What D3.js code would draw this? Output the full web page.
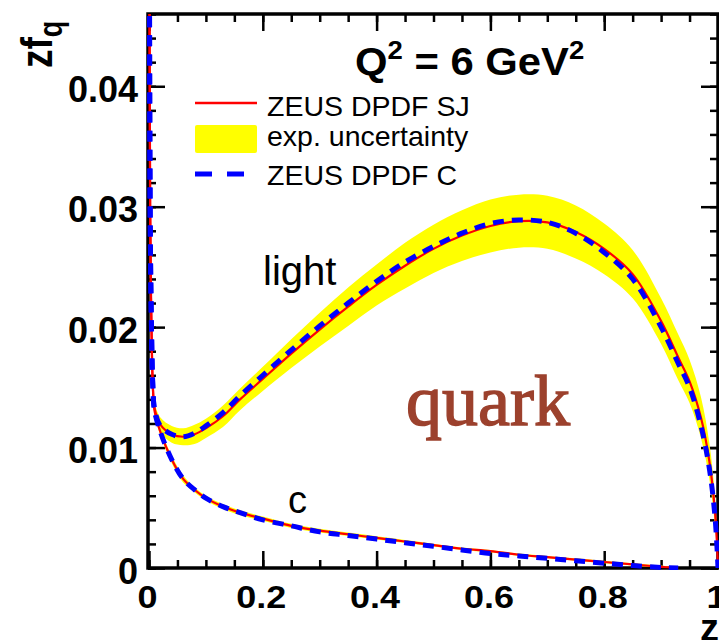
<!DOCTYPE html>
<meta charset="utf-8">
<script src="https://d3js.org/d3.v7.min.js"></script>
<style>
  body { margin: 0; background: #fff; }
  text { font-family: "Liberation Sans", Arial, sans-serif; fill: #000; }
  .axis line { stroke: #000; stroke-width: 2.5px; }
  .axis path { display: none; }
  .axis text { font-weight: bold; font-family: "Liberation Sans", Arial, sans-serif; }
</style>
<body>
<script>
// z grid shared by every curve
var zGrid = [0.0005, 0.002, 0.004, 0.007, 0.01, 0.02, 0.04, 0.06, 0.08, 0.10, 0.13, 0.16, 0.20, 0.25, 0.30,
  0.35, 0.40, 0.45, 0.50, 0.55, 0.60, 0.65, 0.70, 0.75, 0.80, 0.85, 0.90, 0.93, 0.95, 0.97, 0.985, 0.995, 1.0];

// light quark, ZEUS DPDF SJ (red) and its exp. uncertainty (yellow)
var lightSJ = [0.06, 0.03, 0.021, 0.0148, 0.0132, 0.0119, 0.0111, 0.0109, 0.0111, 0.0116, 0.0126, 0.0140, 0.0157, 0.0178, 0.0198,
  0.0217, 0.0235, 0.0251, 0.0265, 0.0276, 0.0284, 0.0288, 0.0287, 0.0279, 0.0265, 0.0244, 0.0205, 0.0175, 0.0155, 0.0125, 0.0088, 0.0045, 0];
var lightErr = [0.0003, 0.0003, 0.0004, 0.0005, 0.0005, 0.0006, 0.0007, 0.0007, 0.0008, 0.0008, 0.0009, 0.0009, 0.0010, 0.0012, 0.0014,
  0.0016, 0.0017, 0.0019, 0.0020, 0.0021, 0.0022, 0.0022, 0.0022, 0.0022, 0.0021, 0.0020, 0.0019, 0.0019, 0.0018, 0.0017, 0.0015, 0.0012, 0];
// light quark, ZEUS DPDF C (blue dashed)
var lightC = [0.06, 0.03, 0.021, 0.0148, 0.0131, 0.0118, 0.0111, 0.0109, 0.0112, 0.0118, 0.0129, 0.0143, 0.0160, 0.0181, 0.0201,
  0.0220, 0.0238, 0.0254, 0.0267, 0.0278, 0.0286, 0.0289, 0.0287, 0.0278, 0.0262, 0.0240, 0.0200, 0.0170, 0.0150, 0.0118, 0.0082, 0.0041, 0];

// charm
var cSJ = [0.06, 0.03, 0.021, 0.0148, 0.0130, 0.0113, 0.0090, 0.0074, 0.0065, 0.0058, 0.0051, 0.0046, 0.0041, 0.0035, 0.0031,
  0.0028, 0.0025, 0.0022, 0.0019, 0.0016, 0.0014, 0.0011, 0.0009, 0.0007, 0.0005, 0.0003, 0.0001, 0, null, null, null, null, null];
var cErr = [0.0003, 0.0003, 0.0003, 0.0003, 0.0003, 0.0003, 0.0003, 0.0003, 0.0002, 0.0002, 0.0002, 0.0002, 0.00018, 0.00017, 0.00016,
  0.00015, 0.00014, 0.00013, 0.00012, 0.00011, 0.0001, 0.0001, 0.0001, 0.0001, 0.0001, 0.0001, 0.0001, 0, null, null, null, null, null];
var cC = [0.06, 0.03, 0.021, 0.0148, 0.0130, 0.0113, 0.0090, 0.0074, 0.0065, 0.0058, 0.0051, 0.0046, 0.0040, 0.0035, 0.0030,
  0.0027, 0.0024, 0.0021, 0.0018, 0.0015, 0.0012, 0.0010, 0.0008, 0.0006, 0.0004, 0.0002, 0.00005, 0, null, null, null, null, null];

var xMajor = [0, 0.2, 0.4, 0.6, 0.8, 1];
var xLabels = ["0", "0.2", "0.4", "0.6", "0.8", "1"];
var yMajor = [0, 0.01, 0.02, 0.03, 0.04];
var yLabels = ["0", "0.01", "0.02", "0.03", "0.04"];
var legendNames = ["ZEUS DPDF SJ", "exp. uncertainty", "ZEUS DPDF C"];

var svg = d3.select('body').append('svg')
  .attr('width', 719)
  .attr('height', 640);

var x = d3.scaleLinear().domain([0, 1]).range([149, 718]);
var y = d3.scaleLinear().domain([0, 0.046]).range([568, 14]);

var xMinor = d3.range(0, 1.0001, 0.05);
var yMinor = d3.range(0, 0.0461, 0.002);

// frame
svg.append('rect')
  .attr('x', 148).attr('y', 14).attr('width', 570).attr('height', 554)
  .attr('fill', 'none').attr('stroke', '#000').attr('stroke-width', 3.5);

// minor ticks
svg.append('g').attr('class', 'axis').attr('transform', 'translate(0,568)')
  .call(d3.axisBottom(x).tickValues(xMinor).tickSizeInner(-8).tickSizeOuter(0).tickFormat(''));
svg.append('g').attr('class', 'axis').attr('transform', 'translate(0,14)')
  .call(d3.axisTop(x).tickValues(xMinor).tickSizeInner(-8).tickSizeOuter(0).tickFormat(''));
svg.append('g').attr('class', 'axis').attr('transform', 'translate(148,0)')
  .call(d3.axisLeft(y).tickValues(yMinor).tickSizeInner(-8).tickSizeOuter(0).tickFormat(''));
svg.append('g').attr('class', 'axis').attr('transform', 'translate(718,0)')
  .call(d3.axisRight(y).tickValues(yMinor).tickSizeInner(-8).tickSizeOuter(0).tickFormat(''));

// major ticks
var xAxis = svg.append('g').attr('class', 'axis').attr('transform', 'translate(0,568)')
  .call(d3.axisBottom(x).tickValues(xMajor).tickSizeInner(-17).tickSizeOuter(0)
    .tickFormat(function(d) { return xLabels[xMajor.indexOf(d)]; }));
xAxis.selectAll('text')
  .attr('y', null).attr('dy', null)
  .attr('transform', 'translate(-2,40) scale(1,0.88)')
  .style('font-size', '36px');
svg.append('g').attr('class', 'axis').attr('transform', 'translate(0,14)')
  .call(d3.axisTop(x).tickValues(xMajor).tickSizeInner(-17).tickSizeOuter(0).tickFormat(''));
var yAxis = svg.append('g').attr('class', 'axis').attr('transform', 'translate(148,0)')
  .call(d3.axisLeft(y).tickValues(yMajor).tickSizeInner(-17).tickSizeOuter(0).tickPadding(10)
    .tickFormat(function(d) { return yLabels[yMajor.indexOf(d)]; }));
yAxis.selectAll('text')
  .attr('dy', '0.42em')
  .style('font-size', '36px');
svg.append('g').attr('class', 'axis').attr('transform', 'translate(718,0)')
  .call(d3.axisRight(y).tickValues(yMajor).tickSizeInner(-17).tickSizeOuter(0).tickFormat(''));

// curves
svg.append('clipPath').attr('id', 'plot')
  .append('rect').attr('x', 146).attr('y', 14).attr('width', 574).attr('height', 556);

function rows(vals, errs) {
  return zGrid.map(function(z, i) { return {z: z, v: vals[i], e: errs ? errs[i] : 0}; });
}

var smooth = d3.curveCatmullRom.alpha(0.5);

var band = d3.area()
  .defined(function(d) { return d.v != null; })
  .x(function(d) { return x(d.z); })
  .y0(function(d) { return y(d.v - d.e); })
  .y1(function(d) { return y(d.v + d.e); })
  .curve(smooth);

var line = d3.line()
  .defined(function(d) { return d.v != null; })
  .x(function(d) { return x(d.z); })
  .y(function(d) { return y(d.v); })
  .curve(smooth);

var plot = svg.append('g').attr('clip-path', 'url(#plot)');

plot.append('path').attr('d', band(rows(lightSJ, lightErr))).attr('fill', '#ffff00');
plot.append('path').attr('d', band(rows(cSJ, cErr))).attr('fill', '#ffff00');

[lightSJ, cSJ].forEach(function(vals) {
  plot.append('path').attr('d', line(rows(vals)))
    .attr('fill', 'none').attr('stroke', '#ff0000').attr('stroke-width', 2.2);
});
[lightC, cC].forEach(function(vals) {
  plot.append('path').attr('d', line(rows(vals)))
    .attr('fill', 'none').attr('stroke', '#0000ff').attr('stroke-width', 5)
    .attr('stroke-dasharray', '11,8');
});

// legend
var leg = svg.append('g');
leg.append('line').attr('x1', 195).attr('x2', 257).attr('y1', 103).attr('y2', 103)
  .attr('stroke', '#ff0000').attr('stroke-width', 2.7);
leg.append('rect').attr('x', 195).attr('y', 125).attr('width', 62).attr('height', 28).attr('rx', 2)
  .attr('fill', '#ffff00');
leg.append('line').attr('x1', 195).attr('x2', 245).attr('y1', 174).attr('y2', 174)
  .attr('stroke', '#0000ff').attr('stroke-width', 5).attr('stroke-dasharray', '17,15');
leg.selectAll('text.leg').data(legendNames).enter().append('text')
  .attr('class', 'leg')
  .attr('x', 267)
  .attr('y', function(d, i) { return [116, 146, 185][i]; })
  .style('font-size', '28.5px')
  .text(function(d) { return d; });

// Q^2 title
var q2 = svg.append('text').attr('transform', 'translate(355,75) scale(1.1,1)')
  .style('font-size', '38px').style('font-weight', 'bold');
q2.append('tspan').text('Q');
q2.append('tspan').attr('dy', -16).style('font-size', '25px').text('2');
q2.append('tspan').attr('dy', 16).text(' = 6 GeV');
q2.append('tspan').attr('dy', -16).style('font-size', '25px').text('2');

// curve labels
svg.append('text').attr('x', 263).attr('y', 285).style('font-size', '40px').text('light');
svg.append('text').attr('x', 288).attr('y', 513).style('font-size', '38px').text('c');
svg.append('text').attr('x', 406).attr('y', 425)
  .style('font-family', '"Liberation Serif", "Times New Roman", serif')
  .style('font-size', '72px')
  .style('fill', '#9c412d').attr('stroke', '#9c412d').attr('stroke-width', 1.4)
  .text('quark');

// axis titles
svg.append('text').attr('x', 719).attr('y', 641).attr('text-anchor', 'end')
  .style('font-size', '38px').style('font-weight', 'bold').text('z');
var yt = svg.append('text').attr('transform', 'translate(52,68) rotate(-90) scale(1,1.2)')
  .style('font-size', '37px').style('font-weight', 'bold');
yt.append('tspan').text('zf');
yt.append('tspan').attr('dy', 8.7).style('font-size', '27px').text('q');
</script>
</body>
</html>
